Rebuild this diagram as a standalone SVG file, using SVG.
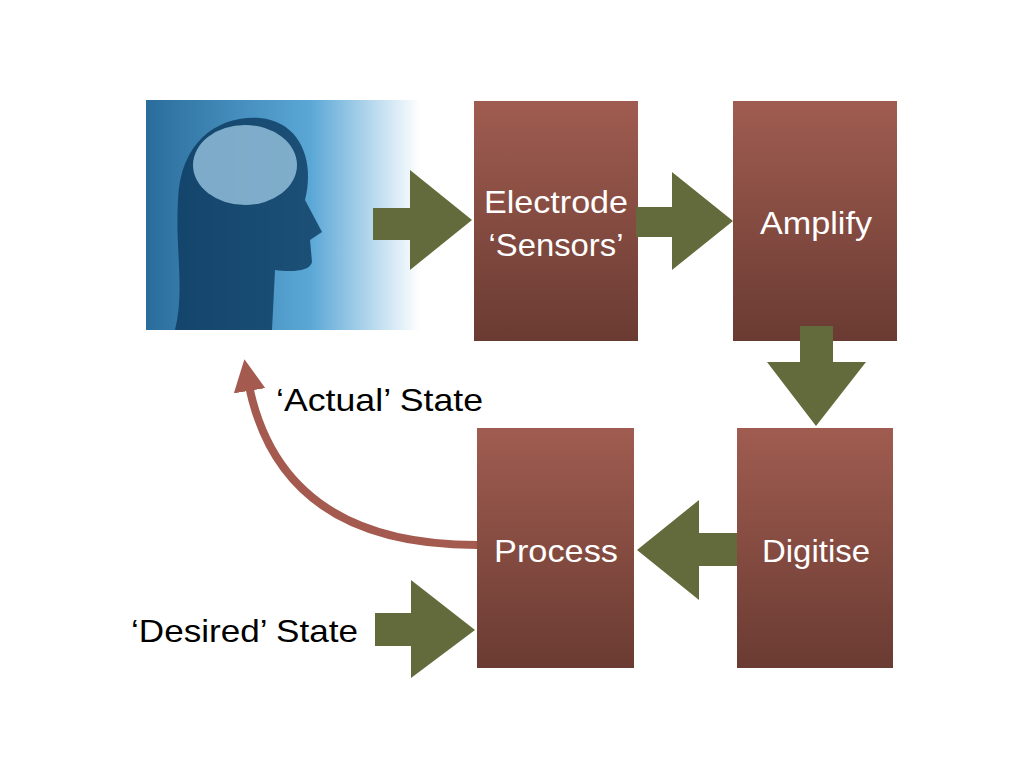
<svg xmlns="http://www.w3.org/2000/svg" width="1024" height="768" viewBox="0 0 1024 768">
<style>
.box{fill:url(#bg)}
.arr{fill:#636b3c}
.t{font-family:"Liberation Sans",Arial,sans-serif;font-size:32px;fill:#fff;text-anchor:middle}
.l{font-family:"Liberation Sans",Arial,sans-serif;font-size:32px;fill:#000}
</style>
<defs>
<linearGradient id="bg" x1="0" y1="0" x2="0" y2="1"><stop offset="0" stop-color="#a05c50"/><stop offset="1" stop-color="#6a3b32"/></linearGradient>
<linearGradient id="img" x1="0" y1="0" x2="1" y2="0"><stop offset="0" stop-color="#2a6d9c"/><stop offset="0.6" stop-color="#5aa7d6"/><stop offset="1" stop-color="#ffffff"/></linearGradient>
<marker id="ah" viewBox="0 0 10 10" refX="5" refY="5" markerWidth="4" markerHeight="4" orient="auto"><path d="M0,0L10,5L0,10z" fill="#a45a4e"/></marker>
</defs>
<g id="brain">
<rect x="146" y="100" width="274" height="230" fill="url(#img)"/>
<path d="M175,330 C185,290 175,250 178,200 C180,140 220,115 260,118 C300,122 315,160 305,200 L322,232 L310,240 L312,262 C310,272 290,272 275,270 L272,330 Z" fill="#0d3a5e" opacity="0.8"/>
<ellipse cx="245" cy="165" rx="52" ry="40" fill="#a9d6f0" opacity="0.7"/>
</g>
<g id="electrode"><rect class="box" x="474" y="101" width="164" height="240"/><text class="t" x="556" y="213" textLength="144" lengthAdjust="spacingAndGlyphs">Electrode</text><text class="t" x="556" y="256" textLength="135" lengthAdjust="spacingAndGlyphs">‘Sensors’</text></g>
<g id="amplify"><rect class="box" x="733" y="101" width="164" height="240"/><text class="t" x="816" y="234" textLength="112" lengthAdjust="spacingAndGlyphs">Amplify</text></g>
<g id="digitise"><rect class="box" x="737" y="428" width="156" height="240"/><text class="t" x="816" y="562" textLength="108" lengthAdjust="spacingAndGlyphs">Digitise</text></g>
<g id="process"><rect class="box" x="477" y="428" width="157" height="240"/><text class="t" x="556" y="562" textLength="124" lengthAdjust="spacingAndGlyphs">Process</text></g>
<g id="connectors">
<path class="arr" d="M373,208H410V170L472,220L410,270V240H373Z"/>
<path class="arr" d="M636,207H672V172L733,221L672,270V237H636Z"/>
<path class="arr" d="M800,326H833V362H866L816,426L767,362H800Z"/>
<path class="arr" d="M737,533H699V500L637,550L699,600V566H737Z"/>
<path class="arr" d="M375,613H411V580L475,630L411,678V646H375Z"/>
<path d="M477,545 Q275,545 247,375" fill="none" stroke="#a45a4e" stroke-width="8" marker-end="url(#ah)"/>
</g>
<text class="l" x="276" y="411" textLength="207" lengthAdjust="spacingAndGlyphs">‘Actual’ State</text>
<text class="l" x="131" y="642" textLength="227" lengthAdjust="spacingAndGlyphs">‘Desired’ State</text>
</svg>
